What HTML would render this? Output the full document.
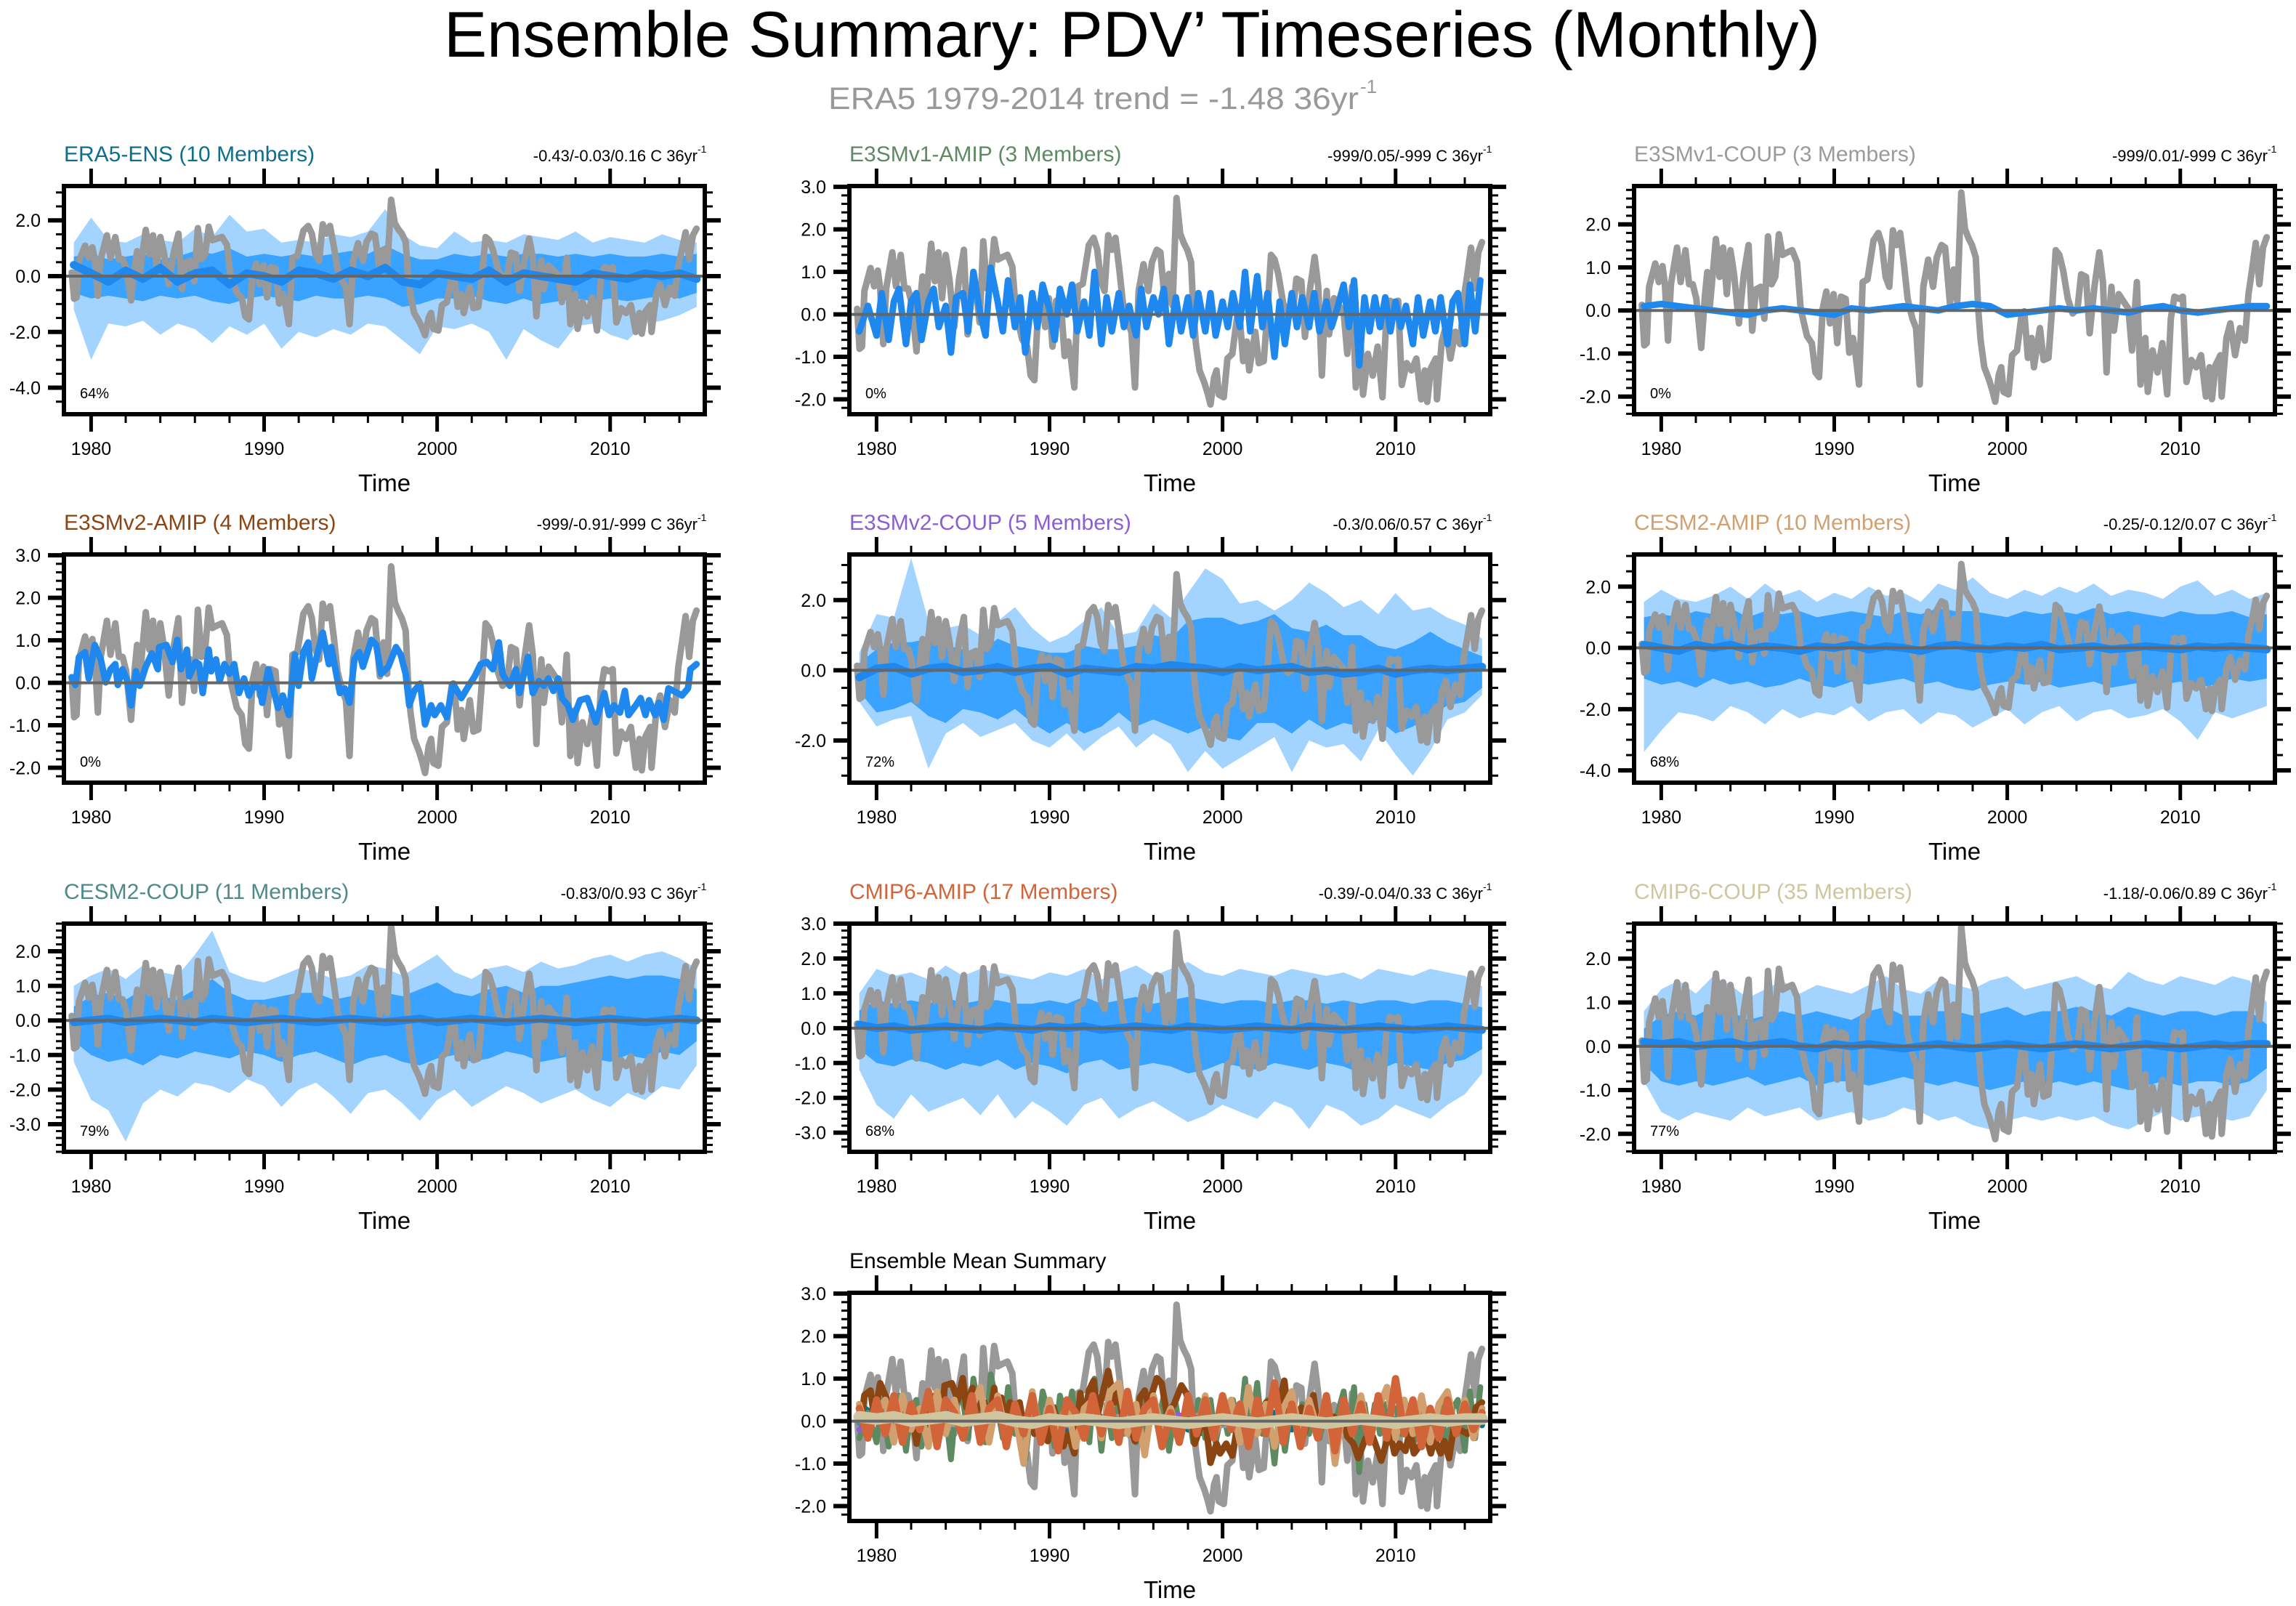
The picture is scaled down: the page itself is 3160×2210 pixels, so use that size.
<!DOCTYPE html>
<html><head><meta charset="utf-8"><title>Ensemble Summary: PDV' Timeseries (Monthly)</title>
<style>html,body{margin:0;padding:0;background:#fff;}svg{display:block;font-family:"Liberation Sans",Arial,sans-serif;}</style>
</head><body>
<svg id="fig" xmlns="http://www.w3.org/2000/svg" width="3160" height="2210" viewBox="0 0 3160 2210">
<rect x="0" y="0" width="3160" height="2210" fill="#fff"/>
<text x="611" y="78" font-size="89" textLength="1894" lengthAdjust="spacingAndGlyphs" fill="#000">Ensemble Summary: PDV’ Timeseries (Monthly)</text>
<text x="1140" y="150" font-size="43" textLength="730" lengthAdjust="spacingAndGlyphs" fill="#999">ERA5 1979-2014 trend = -1.48 36yr</text>
<text x="1872" y="128" font-size="26" fill="#999">-1</text>
<g id="panels"></g>
</svg>
<script>
// ---------- DATA ----------
const eraYears = [1978.88,1979.02,1979.16,1979.30,1979.65,1979.86,1980.07,1980.21,1980.39,1980.56,1980.91,1981.12,1981.40,1981.61,1981.82,1982.03,1982.31,1982.52,1982.66,1982.81,1983.16,1983.37,1983.58,1983.79,1984.00,1984.21,1984.49,1984.77,1985.05,1985.26,1985.47,1985.75,1985.96,1986.17,1986.38,1986.59,1986.80,1987.01,1987.29,1987.57,1987.85,1988.06,1988.42,1988.70,1988.91,1989.12,1989.33,1989.54,1989.75,1989.96,1990.17,1990.38,1990.66,1990.87,1991.08,1991.22,1991.43,1991.64,1991.92,1992.27,1992.55,1992.76,1992.97,1993.18,1993.39,1993.60,1993.81,1994.03,1994.24,1994.52,1994.73,1994.94,1995.15,1995.43,1995.71,1995.92,1996.20,1996.41,1996.69,1996.90,1997.11,1997.34,1997.55,1997.76,1997.97,1998.18,1998.32,1998.46,1998.67,1998.95,1999.16,1999.30,1999.51,1999.65,1999.79,2000.07,2000.28,2000.56,2000.84,2000.98,2001.19,2001.40,2001.54,2001.75,2001.89,2002.10,2002.38,2002.59,2002.80,2003.01,2003.22,2003.50,2003.78,2004.06,2004.27,2004.55,2004.76,2005.04,2005.32,2005.53,2005.74,2005.88,2006.02,2006.16,2006.44,2006.72,2007.00,2007.21,2007.49,2007.70,2007.98,2008.12,2008.40,2008.68,2008.96,2009.24,2009.45,2009.66,2009.94,2010.15,2010.36,2010.64,2010.92,2011.20,2011.48,2011.69,2011.83,2012.04,2012.32,2012.39,2012.67,2012.89,2013.17,2013.45,2013.73,2013.94,2014.15,2014.36,2014.57,2014.78,2014.99];
const eraValues = [0.13,-0.81,-0.76,0.55,1.09,0.66,1.03,0.61,-0.70,0.61,1.46,0.66,1.40,0.61,0.61,0.27,-0.87,0.32,0.89,0.10,1.66,0.78,1.46,0.38,1.40,0.84,-0.30,0.84,1.52,-0.47,0.49,0.55,-0.19,1.72,0.61,0.78,1.77,1.29,1.35,1.40,1.12,0.04,-0.59,-0.76,-1.44,-1.55,0.04,0.44,-0.30,0.38,-0.76,0.32,0.27,-0.98,-0.64,-0.98,-1.72,0.66,0.72,1.63,1.80,1.52,0.78,0.55,1.86,1.52,1.80,1.06,0.27,-0.19,-0.41,-1.72,0.55,1.18,0.55,1.23,1.52,1.46,0.15,0.95,0.21,2.74,1.90,1.68,1.51,1.23,0.04,-0.70,-1.32,-1.61,-1.89,-2.12,-1.49,-1.32,-1.89,-1.95,-1.04,-0.93,-0.07,-0.02,-1.10,-0.64,-1.32,-0.76,-0.41,-1.15,-1.10,0.04,1.40,1.29,0.95,0.27,-0.07,0.04,0.84,0.78,-0.53,0.55,1.35,0.66,-1.44,-0.19,0.55,-0.47,0.38,0.21,0.04,-0.93,0.66,-1.72,-0.64,-1.89,-0.93,-1.44,-0.76,-1.95,-0.19,0.32,0.27,0.32,-1.66,-1.15,-1.32,-1.04,-2.00,-1.32,-2.06,-1.27,-1.04,-2.00,-0.64,-0.30,-1.04,-0.41,-0.70,0.38,0.95,1.57,0.61,1.46,1.70];

const v2AmipYears = [1978.88,1979.09,1979.30,1979.65,1979.86,1980.21,1980.56,1980.84,1981.12,1981.40,1981.54,1981.82,1982.10,1982.31,1982.59,1982.81,1983.16,1983.51,1983.86,1983.93,1984.35,1984.70,1984.98,1985.19,1985.54,1985.68,1986.03,1986.24,1986.45,1986.80,1986.94,1987.22,1987.43,1987.71,1987.99,1988.27,1988.55,1988.84,1989.12,1989.40,1989.75,1989.89,1990.24,1990.52,1990.80,1991.08,1991.43,1991.78,1991.99,1992.27,1992.55,1992.76,1992.97,1993.39,1993.74,1993.88,1994.38,1994.66,1994.94,1995.22,1995.50,1995.71,1996.20,1996.48,1996.76,1997.18,1997.62,1997.90,1998.18,1998.39,1998.67,1999.02,1999.30,1999.65,1999.86,2000.21,2000.56,2000.91,2001.40,2001.82,2002.17,2002.52,2002.87,2003.22,2003.57,2003.78,2004.20,2004.55,2004.76,2005.25,2005.53,2005.88,2006.16,2006.44,2006.72,2007.00,2007.21,2007.56,2007.84,2008.26,2008.68,2009.17,2009.66,2009.94,2010.22,2010.57,2010.85,2011.06,2011.48,2011.76,2012.04,2012.25,2012.60,2012.81,2013.09,2013.37,2013.66,2014.15,2014.50,2014.64,2014.99];
const v2AmipValues = [0.13,-0.05,0.61,0.72,0.10,0.89,0.55,0.01,0.32,0.44,-0.05,0.32,0.04,-0.53,0.27,-0.07,0.38,0.69,0.32,0.84,0.89,0.49,1.01,0.32,0.78,0.15,0.49,0.44,-0.24,0.78,0.27,0.55,0.04,0.44,0.21,0.44,-0.24,0.10,-0.30,-0.07,-0.13,-0.47,0.32,-0.13,-0.59,-0.30,-0.76,0.66,-0.07,0.72,0.95,0.10,0.49,1.18,0.44,0.84,-0.24,-0.13,-0.47,0.55,0.72,0.38,1.01,0.89,0.21,0.38,0.84,0.66,0.21,-0.53,-0.19,-0.02,-0.98,-0.53,-0.76,-0.53,-0.81,-0.02,-0.36,-0.07,0.15,0.44,0.49,0.32,0.95,0.21,-0.07,0.32,-0.24,0.61,-0.24,0.04,-0.07,0.10,-0.19,0.10,-0.36,-0.53,-0.87,-0.41,-0.36,-0.93,-0.24,-0.76,-0.53,-0.70,-0.19,-0.76,-0.53,-0.36,-0.76,-0.41,-0.76,-0.47,-0.87,-0.13,-0.19,-0.30,-0.13,0.32,0.44];

const v1AmipYears = [1979.0,1979.5,1980.0,1980.3,1980.7,1981.0,1981.3,1981.7,1982.0,1982.3,1982.6,1983.0,1983.3,1983.6,1984.0,1984.3,1984.6,1985.0,1985.3,1985.6,1986.0,1986.3,1986.6,1987.0,1987.3,1987.6,1988.0,1988.3,1988.6,1989.0,1989.3,1989.6,1990.0,1990.3,1990.6,1991.0,1991.3,1991.6,1992.0,1992.3,1992.6,1993.0,1993.3,1993.6,1994.0,1994.3,1994.6,1995.0,1995.3,1995.6,1996.0,1996.3,1996.6,1996.9,1997.3,1997.6,1998.0,1998.3,1998.6,1999.0,1999.3,1999.6,2000.0,2000.3,2000.6,2001.0,2001.3,2001.6,2002.0,2002.3,2002.6,2003.0,2003.3,2003.6,2004.0,2004.3,2004.6,2005.0,2005.3,2005.6,2006.0,2006.3,2006.6,2007.0,2007.3,2007.6,2007.9,2008.2,2008.5,2008.8,2009.1,2009.4,2009.7,2010.0,2010.3,2010.6,2011.0,2011.3,2011.6,2012.0,2012.3,2012.6,2013.0,2013.3,2013.6,2014.0,2014.3,2014.6,2014.9];
const v1AmipValues = [-0.4,0.2,-0.5,0.5,-0.6,0.3,0.6,-0.7,0.3,0.5,-0.6,0.3,0.6,-0.3,0.2,-0.9,0.4,0.5,-0.4,1.0,0.0,-0.5,1.1,0.3,-0.4,0.8,-0.3,0.4,-0.9,0.5,-0.3,0.7,0.1,-0.6,0.6,0.0,0.7,-0.4,0.3,-0.5,1.0,-0.7,0.4,-0.4,0.5,-0.3,0.2,-0.5,0.6,-0.3,0.4,0.0,0.6,-0.7,0.4,-0.4,0.4,-0.5,0.5,-0.4,0.5,-0.5,0.3,-0.3,0.5,-0.3,1.0,-0.4,0.9,-0.3,0.5,-1.0,0.3,-0.7,0.5,-0.3,0.4,-0.3,0.5,-0.4,0.3,-0.3,0.1,0.7,-0.3,0.8,-1.2,0.4,-0.4,0.4,-0.3,0.4,-0.4,0.3,-0.3,0.2,-0.7,0.4,-0.5,0.3,-0.4,0.4,-0.7,0.3,0.5,-0.7,0.7,-0.4,0.8];

const yearCats = [1979,1980,1981,1982,1983,1984,1985,1986,1987,1988,1989,1990,1991,1992,1993,1994,1995,1996,1997,1998,1999,2000,2001,2002,2003,2004,2005,2006,2007,2008,2009,2010,2011,2012,2013,2014,2015];
const halfYears = [1979.0,1979.5,1980.0,1980.5,1981.0,1981.5,1982.0,1982.5,1983.0,1983.5,1984.0,1984.5,1985.0,1985.5,1986.0,1986.5,1987.0,1987.5,1988.0,1988.5,1989.0,1989.5,1990.0,1990.5,1991.0,1991.5,1992.0,1992.5,1993.0,1993.5,1994.0,1994.5,1995.0,1995.5,1996.0,1996.5,1997.0,1997.5,1998.0,1998.5,1999.0,1999.5,2000.0,2000.5,2001.0,2001.5,2002.0,2002.5,2003.0,2003.5,2004.0,2004.5,2005.0,2005.5,2006.0,2006.5,2007.0,2007.5,2008.0,2008.5,2009.0,2009.5,2010.0,2010.5,2011.0,2011.5,2012.0,2012.5,2013.0,2013.5,2014.0,2014.5,2015.0];

const era5EnsMean = [0.4,0.1,-0.2,0.2,-0.1,0.3,-0.2,0.1,0.2,-0.3,0.1,0.0,-0.2,0.2,0.1,-0.1,0.2,0.0,0.3,-0.2,-0.3,0.1,0.0,-0.1,0.2,-0.2,0.1,0.0,-0.1,-0.2,0.1,0.0,-0.1,0.1,0.0,0.1,-0.1];
const v1CoupMean = [0.1,0.15,0.1,0.05,0.0,-0.05,-0.1,0.0,0.05,0.0,-0.05,-0.1,0.05,0.0,0.05,0.1,0.05,0.0,0.1,0.15,0.1,-0.1,-0.05,0.0,0.05,0.0,0.05,0.0,-0.05,0.05,0.1,0.0,-0.05,0.0,0.05,0.1,0.1];
const v2CoupMean = [-0.2,0.05,0.1,-0.1,0.05,0.1,-0.05,0.0,0.1,-0.05,0.05,0.1,-0.1,0.05,0.0,-0.05,0.1,0.05,0.15,0.1,0.05,-0.05,0.1,0.0,0.05,0.1,-0.05,0.0,-0.1,-0.05,0.05,-0.1,0.0,0.05,0.0,0.05,0.1];
const cesm2AmipYearMean = [0.1,0.0,-0.1,0.1,0.0,0.1,-0.05,0.05,0.0,-0.1,0.05,0.0,0.1,-0.05,0.05,0.0,-0.1,0.05,0.1,0.0,-0.05,0.05,0.0,0.1,-0.05,0.0,0.05,-0.05,0.0,0.05,0.0,-0.05,0.05,0.0,0.05,0.0,-0.05];
const cesm2CoupMean = [-0.05,0.0,0.05,-0.05,0.0,0.05,0.0,-0.05,0.05,0.0,-0.05,0.0,0.05,0.0,-0.05,0.0,0.05,0.0,-0.05,0.0,0.05,-0.05,0.0,0.05,0.0,-0.05,0.0,0.05,0.0,-0.05,0.0,0.05,0.0,-0.05,0.0,0.05,0.0];
const cmip6AmipYearMean = [0.1,0.0,0.05,-0.05,0.0,0.05,0.0,-0.05,0.05,0.0,-0.05,0.05,0.0,0.05,-0.05,0.0,0.05,0.0,-0.05,0.05,0.0,-0.05,0.0,0.05,0.0,-0.05,0.05,0.0,-0.05,0.0,0.05,0.0,-0.05,0.0,0.05,0.0,-0.05];
const cmip6CoupMean = [0.1,0.05,0.1,0.0,0.05,0.1,0.0,0.05,0.1,0.0,-0.05,0.05,0.0,0.05,0.0,-0.05,0.0,0.05,0.0,-0.05,0.0,0.05,0.0,-0.05,0.0,0.05,0.0,-0.05,0.0,0.05,0.0,-0.05,0.0,0.05,0.0,0.05,0.05];

const cmip6AmipMean = [0.3,-0.4,0.5,-0.3,0.6,-0.5,0.4,-0.2,0.7,-0.6,0.5,0.2,-0.4,0.6,-0.5,0.3,0.5,-0.6,0.4,-0.3,0.6,-0.5,0.3,-0.7,0.5,0.2,-0.4,0.6,-0.3,0.4,-0.5,0.7,-0.4,0.3,0.5,-0.6,0.2,-0.5,0.6,-0.3,0.5,-0.4,0.6,-0.2,0.4,-0.6,0.5,-0.3,0.9,-0.5,0.4,-0.6,0.3,-0.4,0.6,-0.7,0.5,-0.3,0.4,-0.5,0.6,-0.4,1.0,-0.3,0.5,-0.6,0.3,-0.4,0.5,-0.3,0.4,-0.2,0.2];
const cesm2AmipMean = [0.4,-0.3,0.2,0.5,-0.5,0.6,-0.2,0.3,-0.6,0.7,-0.3,0.5,-0.4,0.3,0.8,-0.5,0.6,-0.3,0.2,-1.0,0.7,-0.4,0.5,-0.2,0.4,-0.6,0.3,0.5,-0.4,0.7,0.9,-0.3,0.4,-0.8,0.6,-0.2,0.3,-0.5,0.5,-0.3,0.6,-0.4,0.2,0.5,-0.5,0.8,-0.3,0.4,-0.6,0.3,0.7,-0.4,0.5,-0.2,0.6,-1.0,0.4,-0.3,0.6,-0.5,0.3,0.8,-0.4,0.5,-0.3,0.6,-0.5,0.4,0.7,-0.3,0.5,-0.4,0.3];

// ensemble spread bands (outer = min/max, inner = 10-90%)
const era5UO = [1.2,2.1,1.3,1.2,1.5,1.3,1.2,1.7,1.4,2.2,1.6,1.7,1.2,1.3,1.2,1.5,1.4,1.6,2.4,1.5,1.1,1.0,1.6,1.2,1.3,1.2,1.5,1.4,1.3,1.6,1.2,1.4,1.3,1.2,1.5,1.3,1.2];
const era5UI = [0.7,0.8,0.6,0.7,0.8,0.6,0.7,0.9,0.8,1.0,0.7,0.8,0.7,0.8,0.7,0.8,0.9,0.8,1.1,0.8,0.6,0.6,0.8,0.7,0.8,0.7,0.8,0.8,0.7,0.8,0.7,0.8,0.7,0.7,0.8,0.7,0.8];
const era5LI = [-0.6,-0.8,-0.7,-0.8,-0.9,-0.7,-0.8,-0.7,-0.9,-1.0,-0.8,-0.7,-0.8,-0.9,-0.7,-0.8,-0.8,-0.7,-0.8,-1.1,-1.0,-0.8,-0.8,-0.7,-0.9,-1.0,-0.8,-1.0,-0.9,-0.8,-0.9,-0.8,-0.9,-0.8,-0.7,-0.8,-0.6];
const era5LO = [-1.2,-3.0,-1.7,-1.8,-1.6,-2.1,-1.7,-1.9,-2.4,-1.8,-2.1,-1.7,-2.6,-2.0,-2.2,-1.9,-2.1,-1.7,-1.8,-2.3,-2.8,-1.8,-1.9,-1.7,-2.0,-3.0,-1.9,-2.3,-2.6,-1.8,-1.7,-2.1,-2.3,-1.7,-1.6,-1.4,-1.1];

const v2CoupUO = [0.5,1.6,1.5,3.2,1.4,1.2,1.3,1.0,1.4,1.8,1.2,0.8,1.0,1.4,1.8,1.0,1.1,1.9,1.5,2.2,2.9,2.6,1.9,2.0,1.7,2.0,2.5,2.2,1.8,2.0,1.6,2.2,1.7,1.8,1.5,1.3,0.9];
const v2CoupUI = [0.2,0.6,0.8,0.8,0.9,0.7,0.6,0.5,0.9,0.7,0.6,0.5,0.5,0.7,0.6,0.6,0.7,1.0,0.9,1.4,1.5,1.5,1.3,1.4,1.6,1.2,1.1,1.3,1.0,1.0,0.7,0.6,0.8,1.1,0.8,0.6,0.4];
const v2CoupLI = [-0.6,-1.2,-1.1,-0.9,-1.3,-1.5,-1.1,-1.2,-1.4,-1.1,-1.5,-1.8,-1.5,-1.8,-1.6,-1.2,-1.6,-1.4,-1.6,-1.8,-1.6,-1.9,-2.0,-1.5,-1.5,-1.8,-1.4,-1.7,-1.5,-1.6,-1.4,-1.8,-1.6,-1.3,-1.0,-0.9,-0.5];
const v2CoupLO = [-0.9,-1.6,-1.4,-1.3,-2.8,-1.8,-1.5,-1.9,-1.7,-1.5,-2.0,-2.2,-1.8,-2.3,-1.9,-1.6,-2.2,-1.8,-2.1,-2.9,-2.3,-2.8,-2.5,-2.2,-1.9,-2.9,-2.0,-2.2,-2.1,-2.6,-1.7,-2.4,-3.0,-2.3,-1.4,-1.2,-0.7];

const cesm2AmipUO = [1.5,1.9,1.6,1.5,1.7,2.0,1.6,2.1,1.7,1.9,1.5,1.8,1.6,2.0,1.7,1.8,1.5,2.1,1.9,2.3,1.8,1.6,1.9,1.7,2.0,1.8,2.1,1.7,1.9,1.8,1.6,2.0,2.2,1.7,1.9,1.6,1.8];
const cesm2AmipUI = [1.0,1.1,1.0,1.2,1.1,1.3,1.0,1.2,1.1,1.2,1.0,1.1,1.2,1.1,1.0,1.2,1.1,1.3,1.2,1.2,1.1,1.0,1.2,1.1,1.2,1.1,1.3,1.1,1.2,1.1,1.0,1.2,1.1,1.1,1.2,1.0,1.1];
const cesm2AmipLI = [-1.0,-1.2,-1.1,-1.3,-1.0,-1.2,-1.1,-1.3,-1.2,-1.0,-1.2,-1.3,-1.1,-1.2,-1.1,-1.0,-1.2,-1.1,-1.3,-1.4,-1.2,-1.1,-1.2,-1.1,-1.3,-1.2,-1.1,-1.3,-1.2,-1.1,-1.2,-1.1,-1.3,-1.2,-1.0,-1.1,-1.0];
const cesm2AmipLO = [-3.4,-2.7,-2.1,-2.2,-2.4,-1.9,-2.1,-2.5,-2.0,-2.3,-2.1,-2.2,-1.9,-2.4,-2.1,-2.0,-2.5,-2.1,-2.2,-2.6,-2.3,-2.0,-2.5,-2.1,-1.9,-2.4,-2.1,-2.0,-2.3,-2.2,-2.0,-2.4,-3.0,-2.1,-2.3,-2.1,-1.9];

const cesm2CoupUO = [1.0,1.3,1.5,1.2,1.6,1.4,1.3,1.9,2.6,1.4,1.2,1.1,1.3,1.5,1.4,1.2,1.3,1.6,1.5,1.3,1.6,1.9,1.4,1.2,1.5,1.6,1.4,1.7,1.5,1.6,1.8,1.9,1.7,1.9,2.0,1.8,1.5];
const cesm2CoupUI = [0.4,0.7,0.8,0.6,0.9,0.7,0.6,0.9,1.2,0.8,0.6,0.6,0.7,0.8,0.8,0.6,0.7,0.9,0.8,0.7,0.9,1.1,0.8,0.7,0.9,1.0,0.8,1.0,1.0,1.1,1.2,1.3,1.2,1.3,1.3,1.2,0.9];
const cesm2CoupLI = [-0.6,-1.0,-1.2,-1.1,-1.3,-1.0,-1.1,-0.9,-1.0,-1.1,-0.9,-1.0,-1.2,-1.0,-0.9,-1.1,-1.3,-1.1,-1.0,-1.2,-1.3,-1.1,-1.0,-1.2,-1.1,-0.9,-1.0,-1.2,-1.1,-1.0,-1.1,-1.2,-1.0,-1.1,-0.9,-1.0,-0.6];
const cesm2CoupLO = [-1.2,-2.3,-2.6,-3.5,-2.4,-2.0,-2.2,-1.8,-1.9,-2.1,-1.7,-1.9,-2.5,-2.0,-1.8,-2.2,-2.7,-2.1,-2.0,-2.4,-2.9,-2.3,-2.0,-2.5,-2.2,-1.9,-2.1,-2.4,-2.2,-2.0,-2.3,-2.5,-2.1,-2.3,-1.9,-2.0,-1.3];

const cmip6AmipUO = [1.0,1.7,1.5,1.6,1.4,1.8,1.5,1.7,1.6,1.5,1.4,1.6,1.5,1.7,1.4,1.6,1.8,1.5,1.7,1.9,1.6,1.5,1.7,1.6,1.5,1.7,1.6,1.5,1.6,1.4,1.7,1.6,1.5,1.7,1.6,1.5,1.2];
const cmip6AmipUI = [0.5,0.8,0.7,0.8,0.7,0.9,0.7,0.8,0.8,0.7,0.7,0.8,0.7,0.9,0.7,0.8,0.9,0.7,0.8,0.9,0.8,0.7,0.8,0.8,0.7,0.8,0.8,0.7,0.8,0.7,0.8,0.8,0.7,0.8,0.8,0.7,0.6];
const cmip6AmipLI = [-0.6,-1.0,-1.1,-0.9,-1.0,-1.2,-1.0,-1.1,-0.9,-1.2,-1.0,-1.1,-1.3,-1.0,-0.9,-1.2,-1.1,-1.0,-1.1,-1.3,-1.2,-1.0,-1.1,-1.2,-1.0,-1.1,-1.2,-1.0,-1.1,-1.3,-1.2,-1.0,-1.1,-1.2,-1.0,-0.9,-0.6];
const cmip6AmipLO = [-1.2,-2.2,-2.6,-1.9,-2.4,-2.2,-2.0,-2.5,-1.9,-2.6,-2.1,-2.4,-2.8,-2.2,-2.0,-2.6,-2.3,-2.1,-2.4,-2.7,-2.5,-2.2,-2.4,-2.6,-2.1,-2.3,-2.9,-2.2,-2.4,-2.8,-2.6,-2.2,-2.4,-2.6,-2.2,-1.9,-1.3];

const cmip6CoupUO = [0.8,1.3,1.5,1.2,1.6,1.4,1.1,1.3,1.5,1.2,1.4,1.3,1.2,1.4,1.6,1.3,1.2,1.5,1.4,1.3,1.5,1.6,1.3,1.4,1.5,1.6,1.4,1.3,1.7,1.5,1.4,1.6,1.5,1.4,1.6,1.5,1.0];
const cmip6CoupUI = [0.4,0.7,0.8,0.7,0.9,0.8,0.6,0.7,0.8,0.7,0.8,0.7,0.6,0.8,0.9,0.7,0.7,0.8,0.8,0.7,0.8,0.9,0.7,0.8,0.8,0.9,0.8,0.7,0.9,0.8,0.7,0.8,0.8,0.7,0.8,0.8,0.5];
const cmip6CoupLI = [-0.4,-0.8,-0.9,-0.8,-0.9,-0.8,-0.7,-0.9,-0.8,-0.7,-0.9,-0.8,-0.8,-0.9,-0.8,-0.7,-0.8,-0.9,-0.8,-0.9,-1.0,-0.9,-0.8,-0.9,-0.8,-0.9,-0.8,-0.9,-1.0,-0.9,-0.8,-0.9,-0.8,-0.8,-0.9,-0.8,-0.5];
const cmip6CoupLO = [-0.8,-1.5,-1.7,-1.5,-1.6,-1.7,-1.4,-1.6,-1.5,-1.4,-1.7,-1.6,-1.5,-1.7,-1.6,-1.4,-1.5,-1.7,-1.6,-1.8,-1.9,-1.7,-1.6,-1.7,-1.6,-1.7,-1.6,-1.8,-1.9,-1.7,-1.5,-1.7,-1.6,-1.6,-1.7,-1.6,-1.0];

const xTickMajor = [1980,1990,2000,2010];
const xTickMinor = [1982,1984,1986,1988,1992,1994,1996,1998,2002,2004,2006,2008,2012,2014];

// ---------- RENDER ----------
const NS = "http://www.w3.org/2000/svg";
const root = document.getElementById('panels');
const X0 = 1978.43, X1 = 2015.47;
const BW = 882, BH = 314;
function mk(tag, attrs, parent) {
  const e = document.createElementNS(NS, tag);
  for (const k in attrs) e.setAttribute(k, attrs[k]);
  (parent || root).appendChild(e);
  return e;
}
function xs(p, yr) { return p.x + (yr - X0) / (X1 - X0) * BW; }
function ys(p, v) { return p.y + (p.ymax - v) / (p.ymax - p.ymin) * BH; }
function linePath(p, xsArr, vals) {
  return xsArr.map((t, i) => (i ? 'L' : 'M') + xs(p, t).toFixed(1) + ',' + ys(p, vals[i]).toFixed(1)).join('');
}
function bandPath(p, xsArr, up, lo) {
  let d = xsArr.map((t, i) => (i ? 'L' : 'M') + xs(p, t).toFixed(1) + ',' + ys(p, up[i]).toFixed(1)).join('');
  for (let i = xsArr.length - 1; i >= 0; i--) d += 'L' + xs(p, xsArr[i]).toFixed(1) + ',' + ys(p, lo[i]).toFixed(1);
  return d + 'Z';
}

const panels = [
  {id:'era5-ens', x:88, y:256, title:'ERA5-ENS (10 Members)', color:'#0E6E8E', trend:'-0.43/-0.03/0.16 C 36yr', pct:'64%', ymin:-4.95, ymax:3.23, major:2, minor:0.5, bands:[era5UO,era5UI,era5LI,era5LO], mean:[yearCats, era5EnsMean]},
  {id:'e3smv1-amip', x:1169, y:256, title:'E3SMv1-AMIP (3 Members)', color:'#5E8A62', trend:'-999/0.05/-999 C 36yr', pct:'0%', ymin:-2.35, ymax:3.02, major:1, minor:0.2, mean:[v1AmipYears, v1AmipValues]},
  {id:'e3smv1-coup', x:2249, y:256, title:'E3SMv1-COUP (3 Members)', color:'#9A9A9A', trend:'-999/0.01/-999 C 36yr', pct:'0%', ymin:-2.41, ymax:2.89, major:1, minor:0.2, mean:[yearCats, v1CoupMean]},
  {id:'e3smv2-amip', x:88, y:763, title:'E3SMv2-AMIP (4 Members)', color:'#8B4513', trend:'-999/-0.91/-999 C 36yr', pct:'0%', ymin:-2.35, ymax:3.02, major:1, minor:0.2, mean:[v2AmipYears, v2AmipValues]},
  {id:'e3smv2-coup', x:1169, y:763, title:'E3SMv2-COUP (5 Members)', color:'#8A5FD4', trend:'-0.3/0.06/0.57 C 36yr', pct:'72%', ymin:-3.2, ymax:3.3, major:2, minor:0.5, bands:[v2CoupUO,v2CoupUI,v2CoupLI,v2CoupLO], mean:[yearCats, v2CoupMean]},
  {id:'cesm2-amip', x:2249, y:763, title:'CESM2-AMIP (10 Members)', color:'#D2A06E', trend:'-0.25/-0.12/0.07 C 36yr', pct:'68%', ymin:-4.4, ymax:3.05, major:2, minor:0.5, bands:[cesm2AmipUO,cesm2AmipUI,cesm2AmipLI,cesm2AmipLO], mean:[yearCats, cesm2AmipYearMean]},
  {id:'cesm2-coup', x:88, y:1271, title:'CESM2-COUP (11 Members)', color:'#4F8A8A', trend:'-0.83/0/0.93 C 36yr', pct:'79%', ymin:-3.8, ymax:2.8, major:1, minor:0.2, bands:[cesm2CoupUO,cesm2CoupUI,cesm2CoupLI,cesm2CoupLO], mean:[yearCats, cesm2CoupMean]},
  {id:'cmip6-amip', x:1169, y:1271, title:'CMIP6-AMIP (17 Members)', color:'#D2643A', trend:'-0.39/-0.04/0.33 C 36yr', pct:'68%', ymin:-3.55, ymax:3.0, major:1, minor:0.2, bands:[cmip6AmipUO,cmip6AmipUI,cmip6AmipLI,cmip6AmipLO], mean:[yearCats, cmip6AmipYearMean]},
  {id:'cmip6-coup', x:2249, y:1271, title:'CMIP6-COUP (35 Members)', color:'#CFC6A0', trend:'-1.18/-0.06/0.89 C 36yr', pct:'77%', ymin:-2.41, ymax:2.8, major:1, minor:0.2, bands:[cmip6CoupUO,cmip6CoupUI,cmip6CoupLI,cmip6CoupLO], mean:[yearCats, cmip6CoupMean]},
  {id:'summary', x:1169, y:1779, title:'Ensemble Mean Summary', color:'#000', ymin:-2.35, ymax:3.02, major:1, minor:0.2, summary:true}
];

panels.forEach((p, pi) => {
  const g = mk('g', {});
  
  
  const cid = 'clip' + pi;
  const cp = mk('clipPath', {id: cid}, g);
  mk('rect', {x: p.x, y: p.y, width: BW, height: BH}, cp);
  const plot = mk('g', {'clip-path': 'url(#' + cid + ')'}, g);
  
  

  if (p.bands) {
    const outer = mk('path', {d: bandPath(p, yearCats, p.bands[0], p.bands[3]), fill: '#A3D3FF'}, plot);
    
    
    const inner = mk('path', {d: bandPath(p, yearCats, p.bands[1], p.bands[2]), fill: '#3AA2FF'}, plot);
    
    
  }
  const obs = mk('path', {d: linePath(p, eraYears, eraValues), fill: 'none', stroke: '#999999', 'stroke-width': 9, 'stroke-linejoin': 'round', 'stroke-linecap': 'round'}, plot);
  
  

  if (p.summary) {
    const series = [
      ['era5-ens-mean', yearCats, era5EnsMean, '#0E6E8E', 8],
      ['e3smv1-amip-mean', v1AmipYears, v1AmipValues, '#5E8A62', 8],
      ['e3smv1-coup-mean', yearCats, v1CoupMean, '#9A9A9A', 8],
      ['e3smv2-coup-mean', yearCats, v2CoupMean, '#8A5FD4', 8],
      ['e3smv2-amip-mean', v2AmipYears, v2AmipValues, '#8B4513', 9],
      ['cesm2-amip-mean', halfYears, cesm2AmipMean, '#D2A06E', 9],
      ['cesm2-coup-mean', yearCats, cesm2CoupMean, '#4F8A8A', 8],
      ['cmip6-amip-mean', halfYears, cmip6AmipMean, '#D2643A', 10],
      ['cmip6-coup-mean', yearCats, cmip6CoupMean, '#CFC6A0', 16]
    ];
    series.forEach(s => {
      const l = mk('path', {d: linePath(p, s[1], s[2]), fill: 'none', stroke: s[3], 'stroke-width': s[4], 'stroke-linejoin': 'round', 'stroke-linecap': 'round'}, plot);
      
      
    });
  } else {
    const ml = mk('path', {d: linePath(p, p.mean[0], p.mean[1]), fill: 'none', stroke: '#1E88EE', 'stroke-width': p.bands ? 11 : 9, 'stroke-linejoin': 'round', 'stroke-linecap': 'round'}, plot);
    
    
  }
  const z = mk('line', {x1: p.x, x2: p.x + BW, y1: ys(p, 0), y2: ys(p, 0), stroke: '#666', 'stroke-width': 4}, plot);
  
  

  const fr = mk('rect', {x: p.x, y: p.y, width: BW, height: BH, fill: 'none', stroke: '#000', 'stroke-width': 6}, g);
  
  

  const xt = mk('g', {stroke: '#000'}, g);
  
  
  xTickMajor.forEach(t => {
    const X = xs(p, t);
    mk('line', {x1: X, x2: X, y1: p.y - 24, y2: p.y, 'stroke-width': 5}, xt);
    mk('line', {x1: X, x2: X, y1: p.y + BH, y2: p.y + BH + 24, 'stroke-width': 5}, xt);
    const lb = mk('text', {x: X, y: p.y + BH + 56, 'font-size': 25, 'text-anchor': 'middle', fill: '#000', stroke: 'none'}, g);
    lb.textContent = String(t);
    
    
  });
  xTickMinor.forEach(t => {
    const X = xs(p, t);
    mk('line', {x1: X, x2: X, y1: p.y - 12, y2: p.y, 'stroke-width': 3}, xt);
    mk('line', {x1: X, x2: X, y1: p.y + BH, y2: p.y + BH + 12, 'stroke-width': 3}, xt);
  });
  const yt = mk('g', {stroke: '#000'}, g);
  
  
  const nmin = Math.ceil(p.ymin / p.minor - 1e-6), nmax = Math.floor(p.ymax / p.minor + 1e-6);
  for (let k = nmin; k <= nmax; k++) {
    const v = k * p.minor;
    const Y = ys(p, v);
    const isMaj = Math.abs(v / p.major - Math.round(v / p.major)) < 1e-6;
    const L = isMaj ? 22 : 11;
    mk('line', {x1: p.x - L, x2: p.x, y1: Y, y2: Y, 'stroke-width': isMaj ? 6 : 3}, yt);
    mk('line', {x1: p.x + BW, x2: p.x + BW + L, y1: Y, y2: Y, 'stroke-width': isMaj ? 6 : 3}, yt);
    if (isMaj) {
      const lb = mk('text', {x: p.x - 32, y: Y + 9, 'font-size': 25, 'text-anchor': 'end', fill: '#000', stroke: 'none'}, g);
      lb.textContent = (Math.abs(v) < 1e-9 ? 0 : v).toFixed(1);
      
      
    }
  }
  const tt = mk('text', {x: p.x, y: p.y - 34, 'font-size': 30, fill: p.color}, g);
  tt.textContent = p.title;
  
  
  if (p.trend) {
    const tr = mk('text', {x: p.x + BW - 10, y: p.y - 34, 'font-size': 22, 'text-anchor': 'end', fill: '#000'}, g);
    tr.textContent = p.trend;
    
    
    const sp = mk('text', {x: p.x + BW - 10, y: p.y - 46, 'font-size': 14, fill: '#000'}, g);
    sp.textContent = '-1';
    
    
  }
  if (p.pct) {
    const pc = mk('text', {x: p.x + 22, y: p.y + BH - 22, 'font-size': 20, fill: '#000'}, g);
    pc.textContent = p.pct;
    
    
  }
  const xl = mk('text', {x: p.x + BW / 2, y: p.y + BH + 106, 'font-size': 33, 'text-anchor': 'middle', fill: '#000'}, g);
  xl.textContent = 'Time';
  
  
});
</script>
</body></html>
